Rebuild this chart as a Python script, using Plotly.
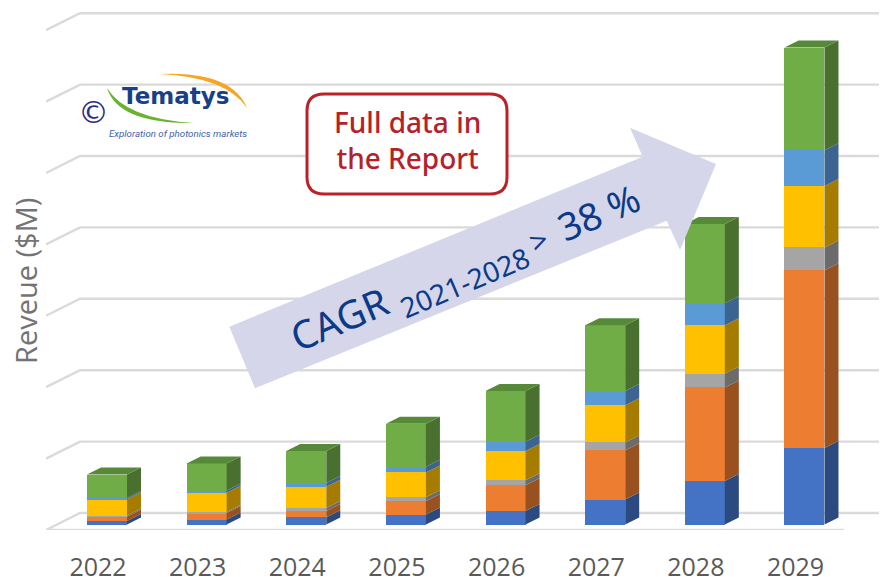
import plotly.graph_objects as go

# ---- data (grid step = 100 units) ----
years = ["2022", "2023", "2024", "2025", "2026", "2027", "2028", "2029"]
blue = [5, 7, 10, 14, 19, 35, 61, 107]
orange = [6, 9, 9, 19, 36, 69, 131, 249]
gray = [1.5, 1.5, 4, 5, 7, 11, 19, 32]
yellow = [23, 27, 30, 35, 41, 52, 68, 86]
light_blue = [1.5, 3, 5, 8, 13, 20, 31, 50]
green = [33, 38, 45, 60, 71, 92, 111, 144]
grid_levels = [0, 100, 200, 300, 400, 500, 600, 700]

series = [blue, orange, gray, yellow, light_blue, green]
front_colors = ["#4472c4", "#ed7d31", "#a5a5a5", "#ffc000", "#5b9bd5", "#70ad47"]
side_colors = ["#2b4a80", "#9a5120", "#6b6b6b", "#a67c00", "#3b6590", "#4a7030"]
top_color = "#568a38"

W, H = 883, 577
PL, PR, PB = 46, 879, 530           # plot area edges in px
PX_X, PX_Y = 99.64, 0.714           # px per x unit / per y unit
X0, Y0 = 107, 524.5                 # px position of index 0 / value 0 (bar front plane)
x_range = [(PL - X0) / PX_X, (PR - X0) / PX_X]
y_range = [(Y0 - PB) / PX_Y, Y0 / PX_Y]
BAR_W = 40 / PX_X
BAR_DX, BAR_DY = 14 / PX_X, 7 / PX_Y
WALL_DX, WALL_DY = 34 / PX_X, 17 / PX_Y
FRONT_END = (844 - X0) / PX_X


def px(x):
    return (x - PL) / (PR - PL)


def py(y):
    return (PB - y) / PB


def path(points):
    return "M" + " L".join(f"{px(a):.5f},{py(b):.5f}" for a, b in points) + " Z"


fig = go.Figure()
idx = list(range(len(years)))

# wall grid lines with their slanted lead-in, on the base axes (behind the bars)
gx, gy = [], []
for L in grid_levels:
    base = L + y_range[0]
    gx += [x_range[0], x_range[0] + WALL_DX, x_range[1], None]
    gy += [base, base + WALL_DY, base + WALL_DY, None]
gx += [x_range[0], FRONT_END]
gy += [y_range[0], y_range[0]]
fig.add_trace(go.Scatter(x=gx, y=gy, mode="lines", cliponaxis=False, showlegend=False,
                         line=dict(color="#dadada", width=2.4), hoverinfo="skip"))

# front faces
for s, c in zip(series, front_colors):
    fig.add_trace(go.Bar(x=idx, y=s, width=BAR_W, marker=dict(color=c, line=dict(width=0)),
                         xaxis="x2", yaxis="y2", showlegend=False))

# side and top faces computed from the stacked values
for i in idx:
    xr = i + BAR_W / 2
    xl = i - BAR_W / 2
    v0 = 0
    for s, c in zip(series, side_colors):
        v1 = v0 + s[i]
        fig.add_trace(go.Scatter(
            x=[xr, xr, xr + BAR_DX, xr + BAR_DX, xr],
            y=[v0, v1, v1 + BAR_DY, v0 + BAR_DY, v0],
            mode="lines", fill="toself", fillcolor=c, line=dict(width=0),
            xaxis="x2", yaxis="y2", showlegend=False, hoverinfo="skip"))
        v0 = v1
    fig.add_trace(go.Scatter(
        x=[xl, xr, xr + BAR_DX, xl + BAR_DX, xl],
        y=[v0, v0, v0 + BAR_DY, v0 + BAR_DY, v0],
        mode="lines", fill="toself", fillcolor=top_color, line=dict(width=0),
        xaxis="x2", yaxis="y2", showlegend=False, hoverinfo="skip"))

shapes = [
    # growth arrow
    dict(type="path", xref="paper", yref="paper", layer="above",
         path=path([(229.3, 326.7), (255, 388.3), (666.7, 220.7), (680, 250),
                    (716, 164), (630, 127.7), (642.7, 156.7)]),
         fillcolor="#d5d6ea", line=dict(width=0)),
    # rounded box
    dict(type="path", xref="paper", yref="paper", layer="above", fillcolor="white",
         line=dict(color="#bb2228", width=3),
         path=(f"M{px(324):.5f},{py(94):.5f} L{px(490):.5f},{py(94):.5f} "
               f"Q{px(507):.5f},{py(94):.5f} {px(507):.5f},{py(111):.5f} "
               f"L{px(507):.5f},{py(177):.5f} Q{px(507):.5f},{py(194):.5f} {px(490):.5f},{py(194):.5f} "
               f"L{px(324):.5f},{py(194):.5f} Q{px(307):.5f},{py(194):.5f} {px(307):.5f},{py(177):.5f} "
               f"L{px(307):.5f},{py(111):.5f} Q{px(307):.5f},{py(94):.5f} {px(324):.5f},{py(94):.5f} Z")),
    # logo swooshes
    dict(type="path", xref="paper", yref="paper", layer="above", fillcolor="#f5a623", line=dict(width=0),
         path=(f"M{px(160):.5f},{py(74):.5f} Q{px(232):.5f},{py(71):.5f} {px(247):.5f},{py(108):.5f} "
               f"Q{px(226):.5f},{py(77):.5f} {px(160):.5f},{py(74):.5f} Z")),
    dict(type="path", xref="paper", yref="paper", layer="above", fillcolor="#6ab42d", line=dict(width=0),
         path=(f"M{px(107):.5f},{py(88):.5f} Q{px(118):.5f},{py(124):.5f} {px(194):.5f},{py(123):.5f} "
               f"Q{px(126):.5f},{py(119):.5f} {px(107):.5f},{py(88):.5f} Z")),
]


def note(text, x, y, size, color, family="Noto Sans", angle=0, weight=400):
    return dict(text=text, x=px(x), y=py(y), xref="paper", yref="paper", showarrow=False,
                xanchor="center", yanchor="middle", textangle=angle,
                font=dict(size=size, color=color, family=family, weight=weight))


annotations = [
    note("Full data in<br>the Report", 407, 140, 28, "#b5212a", weight=500),
    note("CAGR", 338, 318, 39, "#0b3a88", angle=-23),
    note("2021-2028", 465, 282, 28, "#0b3a88", angle=-23),
    note("&gt;", 538, 240, 30, "#0b3a88", angle=-23),
    note("38 %", 598, 212, 38, "#0b3a88", angle=-23),
    note("Tematys", 175, 96, 23, "#17408b", family="DejaVu Sans", weight=700),
    note("<i>Exploration of photonics markets</i>", 177.5, 133, 9.7, "#3f5fa8", family="Roboto"),
    note("©", 93, 112, 31, "#2d2d86", family="DejaVu Sans"),
    note("Reveue ($M)", 25, 281, 29, "#737373", family="Open Sans", angle=-90),
]

fig.update_layout(
    width=W, height=H, autosize=False, barmode="stack",
    margin=dict(l=PL, r=W - PR, t=0, b=H - PB, autoexpand=False),
    plot_bgcolor="white", paper_bgcolor="white", showlegend=False,
    xaxis=dict(range=x_range, tickmode="array", tickvals=[i - 0.09 for i in idx], ticktext=years,
               showgrid=False, zeroline=False, showline=False, ticks="", automargin=False,
               ticklabelstandoff=20, tickfont=dict(size=25, color="#595959", family="Open Sans")),
    yaxis=dict(range=y_range, showgrid=False, zeroline=False, showline=False, showticklabels=False,
               ticks="", automargin=False),
    xaxis2=dict(range=x_range, overlaying="x", visible=False),
    yaxis2=dict(range=y_range, overlaying="y", visible=False),
    shapes=shapes, annotations=annotations,
)
fig.write_html("out.html", post_script="document.body.style.margin='0';",
               config={"displayModeBar": False})
